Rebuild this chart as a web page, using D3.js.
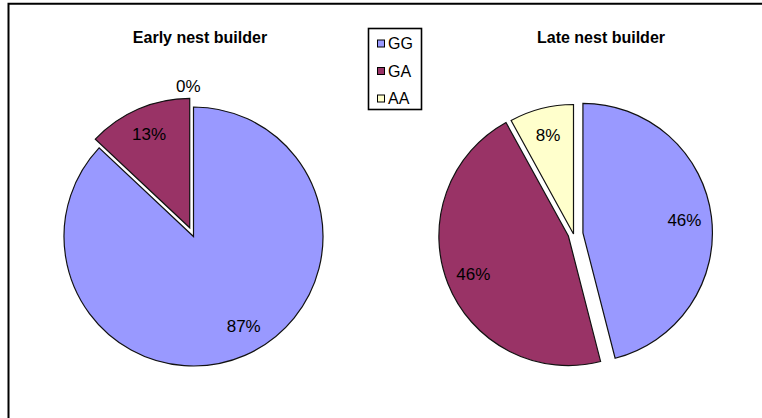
<!DOCTYPE html>
<html>
<head>
<meta charset="utf-8">
<script src="https://cdn.jsdelivr.net/npm/d3@7/dist/d3.min.js"></script>
<style>
  html, body { margin: 0; padding: 0; background: #fff; }
  svg { display: block; font-family: "Liberation Sans", Arial, sans-serif; }
</style>
</head>
<body>
<svg id="chart" width="762" height="418"></svg>
<script>
// Genotype shares for the two nest-builder groups
const categories = ["GG", "GA", "AA"];
const earlyValues = [87, 13, 0];
const lateValues = [46, 46, 8];
const chartTitles = ["Early nest builder", "Late nest builder"];
const sliceColors = ["#9999FF", "#993366", "#FFFFCC"];

// Placement of each pie: centre, radius, how far each slice is pulled out,
// and a small angular shift (degrees) for each percentage label
const pieLayout = [
  { values: earlyValues, title: chartTitles[0], cx: 193.5, cy: 236.5, r: 129.5,
    explode: [0, 9.5, 0], labelShift: [-6, 0, -2], titleX: 200 },
  { values: lateValues,  title: chartTitles[1], cx: 573.5, cy: 234,   r: 129.5,
    explode: [9.5, 5.5, 0], labelShift: [0, 0, 0], titleX: 601 }
];

const svg = d3.select("#chart");

svg.append("rect").attr("width", 762).attr("height", 418).attr("fill", "#fff");

// Frame: only the top and left edges fall inside the view
svg.append("path")
  .attr("d", "M8.5,418V3.8H762")
  .attr("fill", "none")
  .attr("stroke", "#000")
  .attr("stroke-width", 2);

const color = d3.scaleOrdinal().domain(categories).range(sliceColors);
const pie = d3.pie().sort(null).value(d => d.value);

pieLayout.forEach(cfg => {
  const data = categories.map((c, i) => ({
    cat: c, value: cfg.values[i], explode: cfg.explode[i], shift: cfg.labelShift[i]
  }));
  const arcs = pie(data);
  const arc = d3.arc().innerRadius(0).outerRadius(cfg.r);
  const total = d3.sum(cfg.values);

  const g = svg.append("g").attr("transform", `translate(${cfg.cx},${cfg.cy})`);

  const offset = d => {
    const mid = (d.startAngle + d.endAngle) / 2;
    const e = d.data.explode;
    return [e * Math.sin(mid), -e * Math.cos(mid)];
  };

  g.selectAll("path.slice")
    .data(arcs.filter(d => d.data.value > 0))
    .join("path")
    .attr("class", "slice")
    .attr("transform", d => `translate(${offset(d)})`)
    .attr("d", arc)
    .attr("fill", d => color(d.data.cat))
    .attr("stroke", "#111")
    .attr("stroke-width", 1.2)
    .attr("stroke-linejoin", "miter");

  g.selectAll("text.pct")
    .data(arcs)
    .join("text")
    .attr("class", "pct")
    .attr("transform", d => {
      const mid = (d.startAngle + d.endAngle) / 2 + d.data.shift * Math.PI / 180;
      const [ox, oy] = offset(d);
      const rr = d.data.value > 0 ? cfg.r * 0.79 : cfg.r + 21;
      return `translate(${ox + rr * Math.sin(mid)},${oy - rr * Math.cos(mid)})`;
    })
    .attr("text-anchor", "middle")
    .attr("dy", "0.35em")
    .attr("font-size", 17)
    .attr("fill", "#000")
    .text(d => `${Math.round(d.data.value / total * 100)}%`);

  svg.append("text")
    .attr("x", cfg.titleX)
    .attr("y", 43)
    .attr("text-anchor", "middle")
    .attr("font-size", 16)
    .attr("font-weight", "bold")
    .attr("fill", "#000")
    .text(cfg.title);
});

// Legend
const legend = svg.append("g");
legend.append("rect")
  .attr("x", 368.5).attr("y", 28.5)
  .attr("width", 53).attr("height", 81)
  .attr("fill", "#fff")
  .attr("stroke", "#000")
  .attr("stroke-width", 1.6);

const legendY = d3.scalePoint().domain(categories).range([43.5, 98.5]);

const items = legend.selectAll("g.item")
  .data(categories)
  .join("g")
  .attr("class", "item")
  .attr("transform", d => `translate(0,${legendY(d)})`);

items.append("rect")
  .attr("x", 377.5).attr("y", -3.5)
  .attr("width", 7).attr("height", 7)
  .attr("fill", d => color(d))
  .attr("stroke", "#000")
  .attr("stroke-width", 1);

items.append("text")
  .attr("x", 388)
  .attr("dy", "0.36em")
  .attr("font-size", 16)
  .attr("fill", "#000")
  .text(d => d);
</script>
</body>
</html>
